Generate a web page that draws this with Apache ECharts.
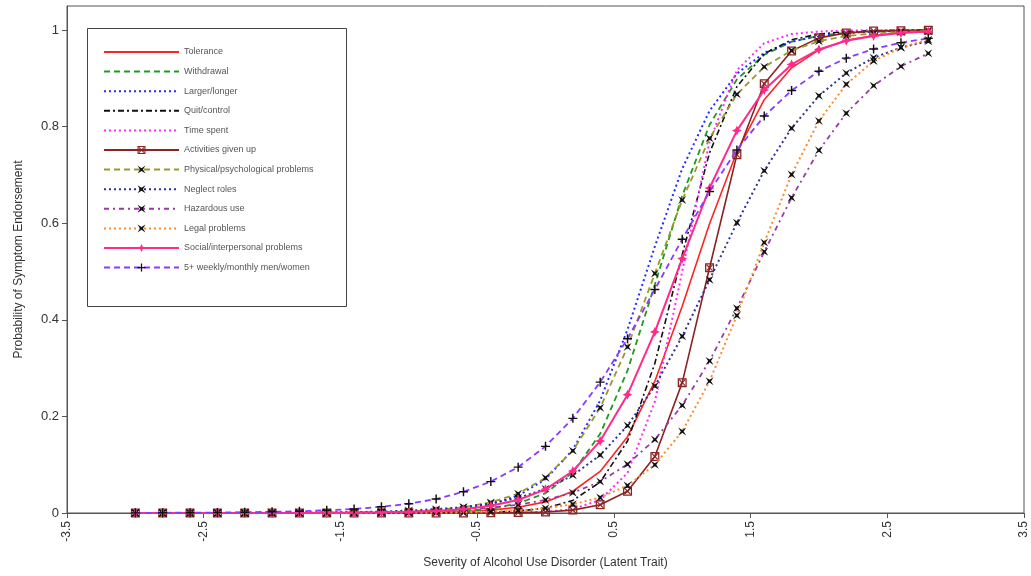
<!DOCTYPE html>
<html><head><meta charset="utf-8">
<script src="https://cdn.jsdelivr.net/npm/echarts@6/dist/echarts.min.js"></script>
<style>html,body{margin:0;padding:0;background:#fff}#c{width:1031px;height:576px}</style>
</head><body><div id="c"></div>
<script>
const xs = [-3.0,-2.8,-2.6,-2.4,-2.2,-2.0,-1.8,-1.6,-1.4,-1.2,-1.0,-0.8,-0.6,-0.4,-0.2,0.0,0.2,0.4,0.6,0.8,1.0,1.2,1.4,1.6,1.8,2.0,2.2,2.4,2.6,2.8];
const xTicks = [-3.5,-2.5,-1.5,-0.5,0.5,1.5,2.5,3.5];
const yTicks = [0,0.2,0.4,0.6,0.8,1];
const names = ['Tolerance','Withdrawal','Larger/longer','Quit/control','Time spent','Activities given up','Physical/psychological problems','Neglect roles','Hazardous use','Legal problems','Social/interpersonal problems','5+ weekly/monthly men/women'];
const tolerance = [0,0,0,0,0,0,0,0.0001,0.0002,0.0004,0.0008,0.0015,0.003,0.006,0.012,0.023,0.045,0.086,0.158,0.273,0.428,0.599,0.748,0.856,0.922,0.959,0.979,0.989,0.995,0.997];
const withdrawal = [0,0,0,0,0,0,0,0.0001,0.0002,0.0004,0.001,0.002,0.004,0.009,0.020,0.041,0.084,0.164,0.295,0.473,0.657,0.804,0.898,0.949,0.976,0.988,0.995,0.997,0.999,0.999];
const larger = [0,0,0,0,0,0.0001,0.0001,0.0003,0.0006,0.001,0.002,0.005,0.009,0.018,0.036,0.070,0.131,0.233,0.380,0.552,0.713,0.833,0.910,0.953,0.976,0.988,0.994,0.997,0.998,0.999];
const quit = [0,0,0,0,0,0,0,0,0,0,0.0001,0.0002,0.0006,0.0016,0.004,0.010,0.026,0.064,0.149,0.310,0.535,0.746,0.883,0.951,0.980,0.992,0.997,0.999,1.0,1.0];
const timeSpent = [0,0,0,0,0,0,0,0,0,0,0,0,0.0001,0.0002,0.0007,0.0025,0.008,0.027,0.083,0.231,0.500,0.769,0.917,0.973,0.992,0.997,0.999,1.0,1.0,1.0];
const activities = [0,0,0,0,0,0,0,0,0,0,0,0,0.0001,0.0003,0.0008,0.002,0.006,0.017,0.045,0.117,0.270,0.508,0.742,0.889,0.957,0.984,0.994,0.998,0.999,1.0];
const physical = [0,0,0,0,0.0001,0.0001,0.0003,0.0005,0.001,0.0018,0.0034,0.006,0.012,0.022,0.040,0.073,0.129,0.218,0.344,0.496,0.648,0.776,0.867,0.924,0.958,0.977,0.988,0.993,0.996,0.998];
const neglect = [0,0.0001,0.0001,0.0002,0.0003,0.0004,0.0007,0.0011,0.0018,0.003,0.005,0.008,0.012,0.020,0.031,0.050,0.078,0.120,0.181,0.263,0.366,0.483,0.601,0.709,0.797,0.864,0.911,0.943,0.964,0.977];
const hazardous = [0,0,0.0001,0.0001,0.0002,0.0002,0.0004,0.0006,0.001,0.0016,0.0026,0.004,0.007,0.011,0.017,0.027,0.042,0.065,0.101,0.152,0.223,0.315,0.424,0.541,0.653,0.751,0.828,0.885,0.925,0.952];
const legal = [0,0,0,0,0,0,0,0.0001,0.0001,0.0002,0.0005,0.0008,0.0015,0.003,0.005,0.010,0.018,0.032,0.057,0.100,0.169,0.273,0.409,0.560,0.701,0.812,0.888,0.936,0.964,0.980];
const social = [0,0,0,0,0.0001,0.0001,0.0002,0.0004,0.0007,0.0013,0.0024,0.004,0.008,0.015,0.027,0.049,0.087,0.149,0.245,0.375,0.527,0.673,0.792,0.876,0.929,0.960,0.978,0.988,0.994,0.997];
const weekly = [0.0003,0.0004,0.0007,0.001,0.0016,0.0024,0.0037,0.0055,0.0084,0.013,0.019,0.029,0.044,0.065,0.095,0.138,0.196,0.271,0.361,0.463,0.567,0.666,0.752,0.822,0.875,0.915,0.942,0.961,0.974,0.983];

const values = [tolerance,withdrawal,larger,quit,timeSpent,activities,physical,neglect,hazardous,legal,social,weekly];
const XMARK = 'path://M0,0 L5,3.2 L10,0 L6.8,5 L10,10 L5,6.8 L0,10 L3.2,5 Z';
const BOXX = 'path://M0,0 L10,0 L10,10 L0,10 Z M1.4,1.4 L1.4,8.6 L8.6,8.6 L8.6,1.4 Z M2.2,1.4 L5,4 L7.8,1.4 L8.6,2.2 L6,5 L8.6,7.8 L7.8,8.6 L5,6 L2.2,8.6 L1.4,7.8 L4,5 L1.4,2.2 Z';
const STAR4 = 'path://M5,0 L6.6,3.4 L10,5 L6.6,6.6 L5,10 L3.4,6.6 L0,5 L3.4,3.4 Z';
const PLUS = 'path://M4.2,0 L5.8,0 L5.8,4.2 L10,4.2 L10,5.8 L5.8,5.8 L5.8,10 L4.2,10 L4.2,5.8 L0,5.8 L0,4.2 L4.2,4.2 Z';
const styles = [
  {color:'#ff2424', type:'solid', width:1.6, symbol:null},
  {color:'#1e9a1e', type:[6,4], width:1.8, symbol:null},
  {color:'#2828ff', type:[2,3], width:2, symbol:null},
  {color:'#111111', type:[6,3,2,3], width:1.6, symbol:null},
  {color:'#ff28ff', type:[2,3], width:2, symbol:null},
  {color:'#8b2323', type:'solid', width:1.6, symbol:BOXX, mcolor:'#8b2323', size:9},
  {color:'#9a9a2a', type:[6,4], width:1.8, symbol:XMARK, mcolor:'#111', size:8},
  {color:'#30309a', type:[2,3], width:2, symbol:XMARK, mcolor:'#111', size:8},
  {color:'#9a3aa8', type:[5,4,2,4], width:1.8, symbol:XMARK, mcolor:'#111', size:8},
  {color:'#ff8a28', type:[2,3], width:2, symbol:XMARK, mcolor:'#111', size:8},
  {color:'#ff2a8a', type:'solid', width:2, symbol:STAR4, mcolor:'#ff2a8a', size:10},
  {color:'#8a3aff', type:[6,4], width:1.8, symbol:PLUS, mcolor:'#111', size:9}
];
const series = names.map((n,i)=>{
  const s = styles[i];
  const has = !!s.symbol;
  return {
    name:n, type:'line', smooth:false,
    data: xs.map((x,j)=>[x, values[i][j]]),
    symbol: has ? s.symbol : 'circle', symbolSize: has ? s.size : 1, showSymbol: has,
    lineStyle:{color:s.color, type:s.type, width:s.width},
    itemStyle:{color: has ? s.mcolor : 'rgba(0,0,0,0)', borderWidth:0},
    emphasis:{disabled:true}, animation:false, z: 2 + i
  };
});
const chart = echarts.init(document.getElementById('c'), null, {renderer:'canvas'});
chart.setOption({
  animation:false,
  backgroundColor:'#fff',
  textStyle:{fontFamily:'Liberation Sans, Arial, sans-serif'},
  grid:{left:67, right:7, top:6, bottom:63, show:true, borderColor:'#555', borderWidth:1},
  graphic:[{type:'rect', left:87, top:28, shape:{width:259, height:278}, style:{fill:'#fff', stroke:'#444', lineWidth:1}, z:50}],
  legend:{
    data:names, orient:'vertical', left:103, top:47, itemWidth:75, itemHeight:10, itemGap:9.6,
    textStyle:{fontSize:9, color:'#555', lineHeight:10, fontFamily:'Liberation Sans, Arial, sans-serif'},
    padding:0, z:60, selectedMode:false, inactiveColor:'#555'
  },
  xAxis:{
    type:'value', min:xTicks[0], max:xTicks[xTicks.length-1], interval:1,
    name:'Severity of Alcohol Use Disorder (Latent Trait)', nameLocation:'middle', nameGap:44,
    nameTextStyle:{fontSize:12, color:'#333'},
    axisLine:{onZero:false, lineStyle:{color:'#555'}}, axisTick:{show:true, length:5, lineStyle:{color:'#555'}},
    axisLabel:{rotate:90, fontSize:12, color:'#333', margin:8, showMinLabel:true, showMaxLabel:true},
    splitLine:{show:false}
  },
  yAxis:{
    type:'value', min:yTicks[0], max:1.05, interval:0.2,
    name:'Probability of Symptom Endorsement', nameLocation:'middle', nameGap:42, nameRotate:90,
    nameTextStyle:{fontSize:12, color:'#333'},
    axisLine:{show:true, onZero:false, lineStyle:{color:'#555'}}, axisTick:{show:true, length:5, lineStyle:{color:'#555'}},
    axisLabel:{fontSize:13, color:'#333', margin:8, showMaxLabel:false,
      formatter:v=> yTicks.indexOf(Math.round(v*10)/10)>=0 ? String(Math.round(v*10)/10) : ''},
    splitLine:{show:false}
  },
  series: series
});
</script></body></html>
